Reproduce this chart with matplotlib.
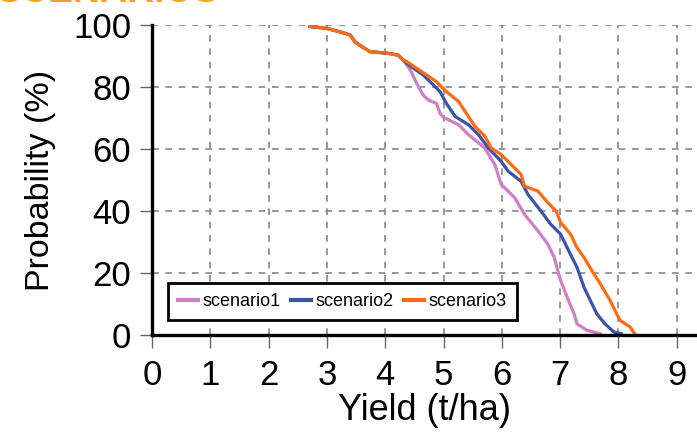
import numpy as np
import matplotlib.pyplot as plt

# exceedance curves: yield (t/ha) vs probability (%)
top_yield = [2.71, 3.00, 3.22, 3.40, 3.48, 3.60, 3.74, 4.03, 4.22, 4.31]
top_prob = [99.5, 98.9, 97.8, 96.8, 94.6, 93.0, 91.4, 90.9, 90.3, 88.7]

s1_yield = [4.43, 4.54, 4.65, 4.74, 4.88, 4.94, 5.0, 5.26, 5.43, 5.71, 5.88, 5.99,
            6.22, 6.39, 6.62, 6.79, 6.90, 6.99, 7.12, 7.24, 7.29, 7.46, 7.69]
s1_prob = [85.5, 81.2, 77.4, 75.8, 74.7, 71.5, 70.2, 67.8, 64.6, 60.3, 55.0, 48.6,
           44.3, 38.9, 33.6, 29.3, 25.0, 18.6, 12.2, 6.8, 3.6, 1.5, 0.4]

s2_yield = [4.37, 4.65, 4.83, 4.94, 5.05, 5.20, 5.43, 5.60, 5.77, 5.99, 6.11, 6.33,
            6.45, 6.67, 6.84, 7.01, 7.12, 7.29, 7.41, 7.52, 7.63, 7.77, 7.92, 8.05]
s2_prob = [87.6, 83.9, 80.6, 78.5, 74.7, 70.5, 67.8, 64.6, 60.3, 56.0, 52.8, 49.6,
           45.3, 40.0, 35.7, 32.5, 28.2, 21.8, 15.4, 11.1, 6.8, 3.6, 1.0, 0.4]

s3_yield = [4.37, 4.54, 4.71, 4.88, 5.05, 5.26, 5.37, 5.54, 5.71, 5.82, 5.99, 6.16,
            6.33, 6.39, 6.62, 6.79, 6.93, 7.01, 7.18, 7.29, 7.41, 7.58, 7.69, 7.86,
            7.97, 8.03, 8.20, 8.28]
s3_prob = [88.2, 86.0, 83.9, 81.7, 78.5, 75.3, 72.1, 67.3, 64.1, 60.3, 58.2, 55.0,
           51.8, 48.0, 46.4, 42.7, 40.0, 36.3, 32.5, 28.2, 25.0, 19.7, 16.5, 11.1,
           6.8, 4.7, 2.6, 0.4]

labels = ['scenario1', 'scenario2', 'scenario3']
colors = ['#d07fc6', '#3a55a8', '#ff6a13']
x_ticks = list(range(0, 10))
y_ticks = [0, 20, 40, 60, 80, 100]

plt.rcParams['font.family'] = ['Liberation Sans', 'DejaVu Sans']

fig = plt.figure(figsize=(6.97, 4.32), dpi=100)
# axes run past the right edge, the reference is cropped there
ax = fig.add_axes([152 / 697, 97 / 432, 583 / 697, 310 / 432])

series = [(s1_yield, s1_prob), (s2_yield, s2_prob), (s3_yield, s3_prob)]
for (xs, ys), lab, col in zip(series, labels, colors):
    xx = np.array(top_yield + xs)
    yy = np.array(top_prob + ys)
    ax.plot(xx, yy, color=col, linewidth=2.3, label=lab, solid_joinstyle='miter')

ax.set_xlim(0, 10)
ax.set_ylim(0, 100)
ax.set_xticks(x_ticks)
ax.set_yticks(y_ticks)
ax.grid(True, color='#888888', linestyle=(0, (4, 4)), linewidth=1.2)

for side in ['top', 'right']:
    ax.spines[side].set_visible(False)
for side in ['left', 'bottom']:
    ax.spines[side].set_linewidth(2.4)
    ax.spines[side].set_zorder(5)

ax.tick_params(axis='both', direction='out', length=9, width=1, color='#666666',
               labelsize=25)
ax.tick_params(axis='x', pad=8)
ax.tick_params(axis='y', pad=6)
ax.set_xlabel('Yield (t/ha)', fontsize=26, labelpad=1)
ax.xaxis.label.set_x((424 - 152) / 583)
ax.set_ylabel('Probability (%)', fontsize=24.5, labelpad=12)

leg = ax.legend(loc='lower left', bbox_to_anchor=(0.027, 0.048), ncol=3,
                frameon=True, fancybox=False, borderaxespad=0,
                prop={'size': 13},
                handlelength=1.1, handletextpad=0.25, columnspacing=0.6,
                borderpad=0.55, framealpha=1)
leg.get_frame().set_edgecolor('black')
leg.get_frame().set_linewidth(2)
for h in leg.get_lines():
    h.set_linewidth(3)

# title is cut off by the top edge in the reference
fig.text(-0.005, 1 - 2 / 432, 'SCENARIOS', color='#f7a21b', fontsize=27,
         fontweight='bold', ha='left', va='baseline')

fig.savefig('out.png', dpi=100)
